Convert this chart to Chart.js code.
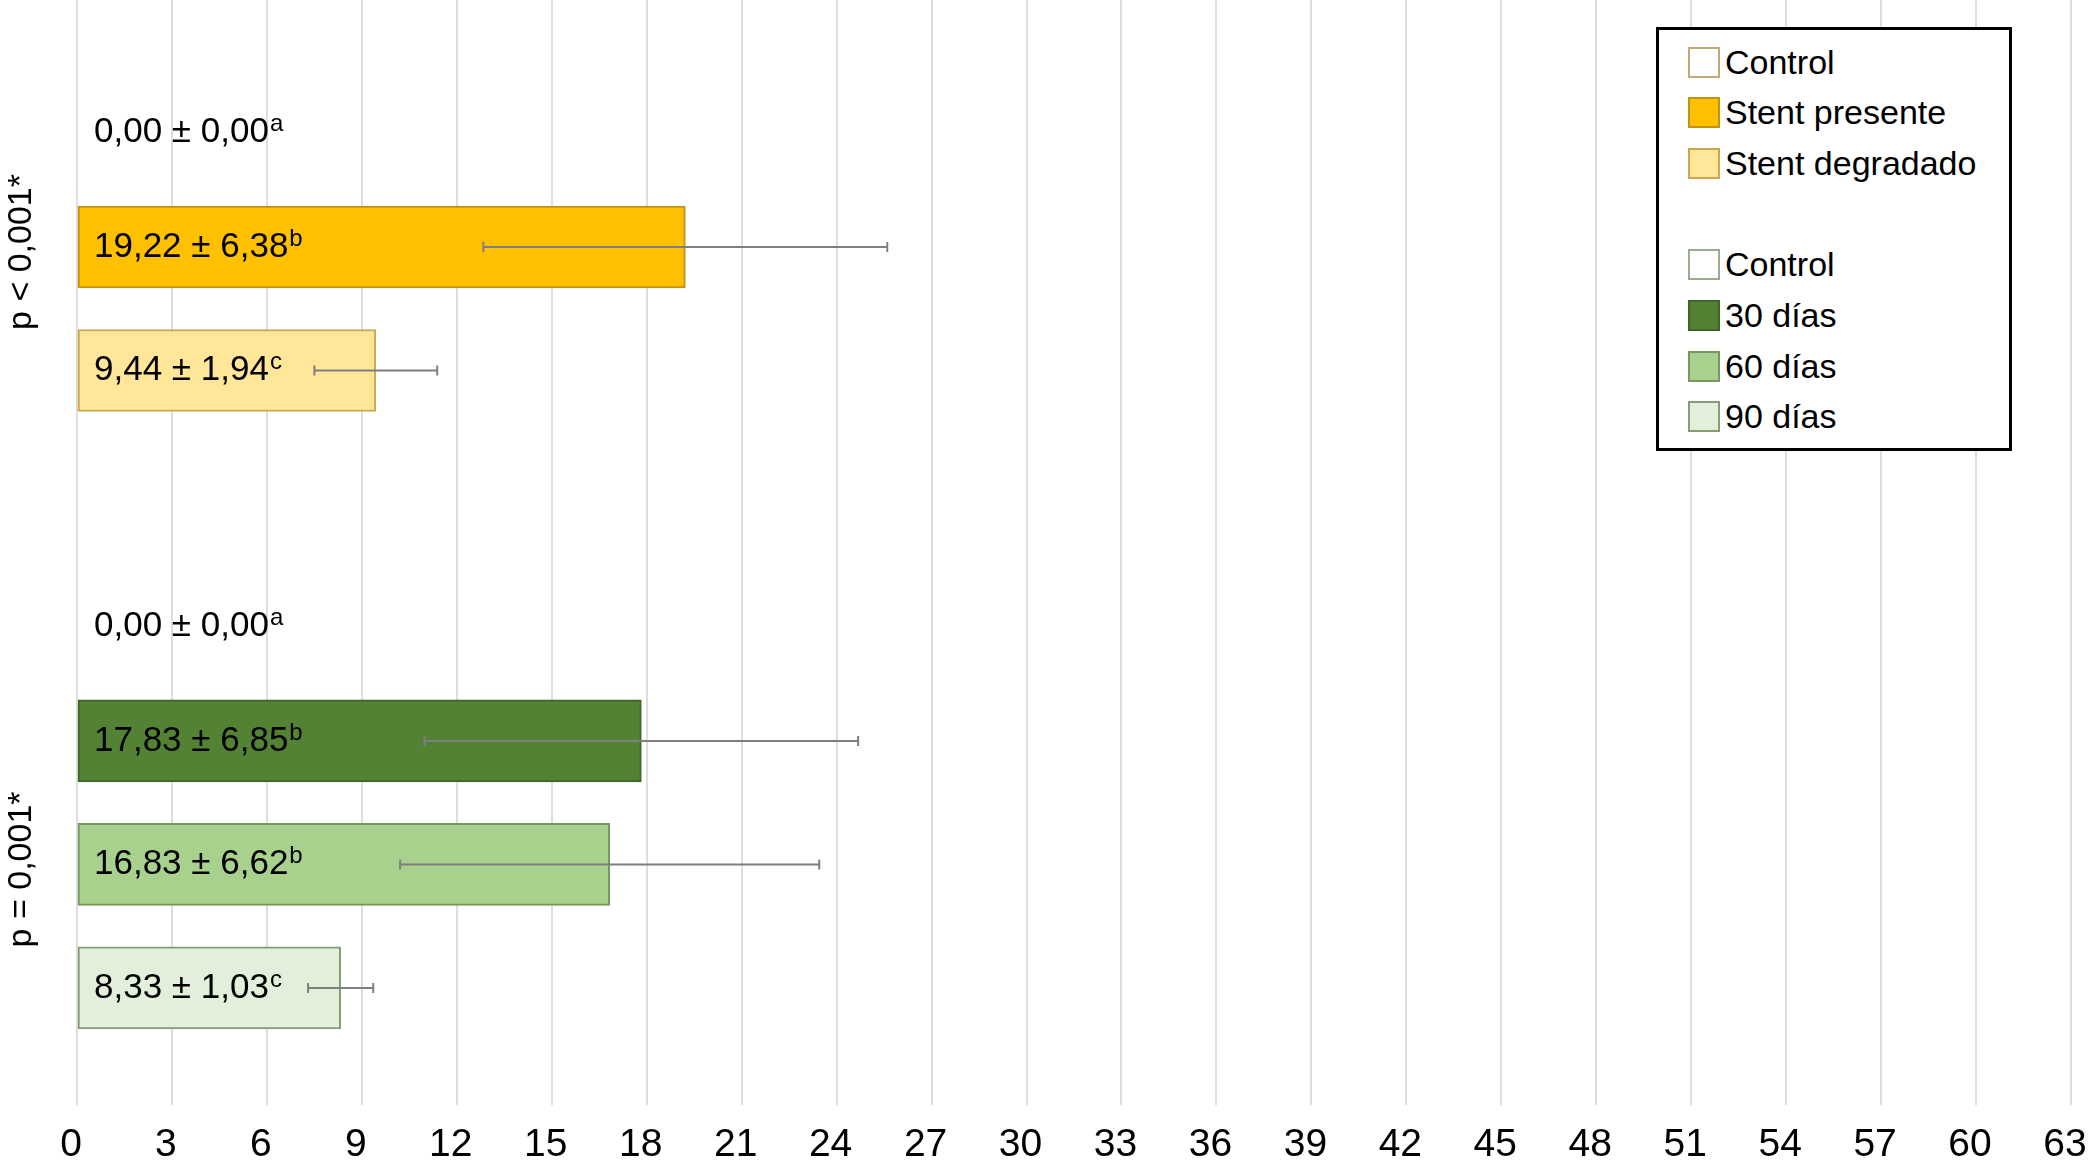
<!DOCTYPE html>
<html>
<head>
<meta charset="utf-8">
<script src="https://cdn.jsdelivr.net/npm/chart.js@4.4.1/dist/chart.umd.min.js"></script>
<style>
  body { margin: 0; background: #fff; overflow: hidden; }
  #wrap { position: relative; width: 2088px; height: 1166px; }
  #legend {
    position: absolute; left: 1656px; top: 27px; width: 350px; height: 418px;
    border: 3px solid #000; background: #fff;
    font-family: "Liberation Sans", Arial, sans-serif; font-size: 34px; color: #000;
  }
  .row { position: absolute; left: 29px; height: 40px; display: flex; align-items: center; white-space: nowrap; }
  .sw { width: 28px; height: 27px; border: 2px solid; margin-right: 5px; }
</style>
</head>
<body>
<div id="wrap">
  <canvas id="chart"></canvas>
  <div id="legend"></div>
</div>
<script>
const categories = ["Control", "Stent presente", "Stent degradado", "", "Control", "30 días", "60 días", "90 días"];
const means = [0, 19.22, 9.44, null, 0, 17.83, 16.83, 8.33];
const sds = [0, 6.38, 1.94, null, 0, 6.85, 6.62, 1.03];
const letters = ["a", "b", "c", "", "a", "b", "b", "c"];
const xTicks = [0, 3, 6, 9, 12, 15, 18, 21, 24, 27, 30, 33, 36, 39, 42, 45, 48, 51, 54, 57, 60, 63];
const groupLabels = ["p < 0,001*", "p = 0,001*"];
const groupAnchors = ["Stent presente", "60 días"];

// styles, same order as categories
const fills = ["#ffffff", "#ffc000", "#ffe699", null, "#ffffff", "#548235", "#a9d18e", "#e2efda"];
const borders = ["#c2a877", "#bf9417", "#c9a94f", null, "#9aab8e", "#3f6528", "#76985f", "#879d76"];

const FONT = "'Liberation Sans', Arial, sans-serif";
const rows = categories.map((c, i) => i).filter((i) => means[i] !== null);
const fmt = (v) => v.toFixed(2).replace(".", ",");

// legend
const legend = document.getElementById("legend");
categories.forEach((name, i) => {
  if (!name) return;
  const row = document.createElement("div");
  row.className = "row";
  row.style.top = (12 + i * 50.7) + "px";
  row.innerHTML = '<span class="sw" style="background:' + fills[i] + ";border-color:" + borders[i] + '"></span>' + name;
  legend.appendChild(row);
});

const annotate = {
  id: "annotate",
  afterDatasetsDraw(chart) {
    const { ctx, chartArea, scales: { x, y } } = chart;
    const meta = chart.getDatasetMeta(0);
    ctx.save();
    meta.data.forEach((bar, k) => {
      const i = rows[k];
      const cy = bar.y;
      if (sds[i] > 0) {
        const x1 = x.getPixelForValue(means[i] - sds[i]);
        const x2 = x.getPixelForValue(means[i] + sds[i]);
        ctx.strokeStyle = "#7f7f7f";
        ctx.lineWidth = 2;
        ctx.beginPath();
        ctx.moveTo(x1, cy); ctx.lineTo(x2, cy);
        ctx.moveTo(x1, cy - 5); ctx.lineTo(x1, cy + 5);
        ctx.moveTo(x2, cy - 5); ctx.lineTo(x2, cy + 5);
        ctx.stroke();
      }
      const txt = fmt(means[i]) + " ± " + fmt(sds[i]);
      const tx = x.getPixelForValue(0) + 17;
      const ty = means[i] === 0 ? cy + 9 : cy;
      ctx.fillStyle = "#000";
      ctx.font = "35px " + FONT;
      ctx.textAlign = "left";
      ctx.textBaseline = "middle";
      ctx.fillText(txt, tx, ty);
      const w = ctx.measureText(txt).width;
      ctx.font = "24px " + FONT;
      ctx.textBaseline = "alphabetic";
      ctx.fillText(letters[i], tx + w + 1, ty - 1);
    });

    ctx.font = "34px " + FONT;
    ctx.textAlign = "center";
    ctx.textBaseline = "middle";
    groupLabels.forEach((label, g) => {
      const cy = y.getPixelForValue(categories.indexOf(groupAnchors[g]) + 1) + 5;
      ctx.save();
      ctx.translate(chartArea.left - 55, cy);
      ctx.rotate(-Math.PI / 2);
      ctx.fillText(label, 0, 0);
      ctx.restore();
    });
    ctx.restore();
  },
};

new Chart(document.getElementById("chart"), {
  type: "bar",
  data: {
    datasets: [
      {
        data: rows.map((i) => ({ x: means[i], y: i + 1 })),
        backgroundColor: rows.map((i) => fills[i]),
        borderColor: rows.map((i) => borders[i]),
        borderWidth: 2,
        borderSkipped: false,
        barThickness: 82,
      },
    ],
  },
  options: {
    indexAxis: "y",
    responsive: true,
    maintainAspectRatio: false,
    animation: false,
    events: [],
    layout: { padding: { left: 77, top: 0, right: 0, bottom: -20 } },
    plugins: { legend: { display: false }, tooltip: { enabled: false } },
    scales: {
      x: {
        type: "linear",
        min: xTicks[0],
        max: xTicks[xTicks.length - 1],
        afterBuildTicks: (scale) => {
          scale.ticks = xTicks.map((v) => ({ value: v }));
        },
        afterFit: (scale) => {
          scale.paddingLeft = 0;
          scale.paddingRight = 17;
        },
        border: { display: false },
        grid: { color: "#dedede", lineWidth: 2, drawTicks: false },
        ticks: {
          color: "#000",
          padding: 17,
          labelOffset: -6,
          maxRotation: 0,
          autoSkip: false,
          font: { family: FONT, size: 39 },
        },
      },
      y: {
        type: "linear",
        reverse: true,
        offset: false,
        min: 0,
        max: 8.95,
        display: false,
      },
    },
  },
  plugins: [annotate],
});
</script>
</body>
</html>
